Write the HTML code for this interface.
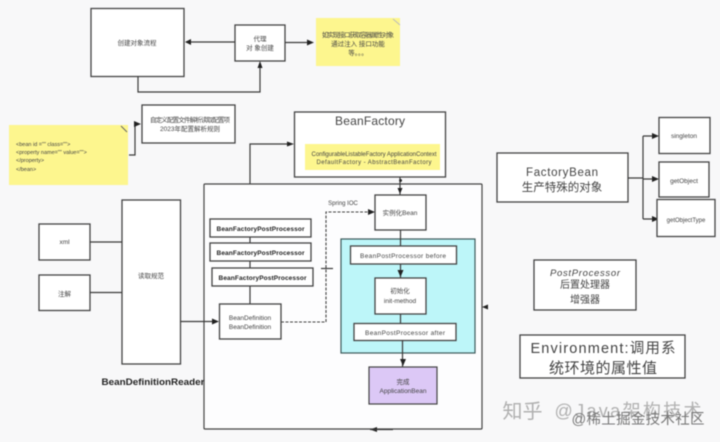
<!DOCTYPE html>
<html><head><meta charset="utf-8"><style>
html,body{margin:0;padding:0;background:#f8f8f9;width:720px;height:442px;overflow:hidden}
svg{display:block;filter:blur(.6px)}
text{font-family:"Liberation Sans","Noto Sans CJK SC",sans-serif;fill:#444;text-anchor:middle}
.b{fill:#fff;stroke:#444;stroke-width:1.3}
.l{fill:none;stroke:#3a3a3a;stroke-width:1.2}
.n{fill:#fdf68e}
.a{fill:#222;stroke:none}
.s{font-size:6.5px}
.m{font-family:"Liberation Sans",sans-serif;font-size:6.5px;font-weight:bold;fill:#222}
</style></head><body>
<svg width="720" height="442" viewBox="0 0 720 442" xmlns="http://www.w3.org/2000/svg">
<!-- top -->
<rect class="b" x="91" y="8.500" width="93" height="68"/>
<text class="s" x="137" y="45">创建对象流程</text>
<rect class="b" x="235" y="25" width="50" height="36"/>
<text class="s" x="260" y="41">代理</text>
<text class="s" x="260" y="50">对 象创建</text>
<path class="l" d="M235 42H186"/><path class="a" d="M185 42l6-3v6z"/>
<path class="l" d="M138 76V92H260V63"/><path class="a" d="M260 61l-2.500 7h5z"/>
<path class="l" d="M285 42.500H308"/><path class="a" d="M314 42.500l-7-3v6z"/>
<rect class="n" x="316" y="18" width="84" height="48"/>
<path d="M393 19l7 6" stroke="#bbb" fill="none"/>
<text class="s" x="358" y="37" textLength="72">如实现接口获取容器属性对象</text>
<text class="s" x="358" y="46">通过注入 接口功能</text>
<text class="s" x="358" y="55">等。。。</text>

<rect class="b" x="142" y="105" width="93" height="38"/>
<text class="s" x="190" y="122" textLength="80">自定义配置文件解析读取配置项</text>
<text class="s" x="190" y="131">2023年配置解析规则</text>
<rect class="n" x="9" y="125" width="119" height="60"/>
<path d="M121 126l6 6" stroke="#666" fill="none"/>
<g style="font-size:5.500px"><text x="16" y="146" style="text-anchor:start">&lt;bean id ="" class=""&gt;</text>
<text x="16" y="154" style="text-anchor:start">&lt;property name="" value=""&gt;</text>
<text x="16" y="162" style="text-anchor:start">&lt;/property&gt;</text>
<text x="16" y="171" style="text-anchor:start">&lt;/bean&gt;</text></g>
<path class="l" d="M129 155H135V124H138"/><path class="a" d="M141 124l-7-3v6z"/>

<!-- BeanFactory -->
<rect class="b" x="294.500" y="112" width="151" height="65"/>
<text x="370" y="125" style="font-size:12px" textLength="70">BeanFactory</text>
<rect class="n" x="305" y="144" width="135" height="26"/>
<text class="s" x="374" y="156" style="font-size:6px" textLength="125">ConfigurableListableFactory  ApplicationContext</text>
<text class="s" x="374" y="164" style="font-size:6px" textLength="115">DefaultFactory  -  AbstractBeanFactory</text>
<path class="l" d="M250 219V144H290"/><path class="a" d="M294 144l-7-2.500v5z"/>

<!-- container -->
<rect x="204" y="184" width="278" height="245" rx="1" fill="#fdfdfe" stroke="#444" stroke-width="1.2"/>
<path class="a" d="M482 307l6-2.500v5z M370 429.500l7-2.500v5z"/>
<path class="l" d="M370 429.500H393"/>
<path class="l" d="M400 177V195"/><path class="a" d="M400 194l-2.500-6h5z"/>
<path class="a" d="M400.500 179a1.500 1.500 0 1 0 .1 0"/>

<path class="l" d="M250 237V243M250 261V268M250 286V304"/>
<rect class="b" x="210" y="219" width="101" height="18"/>
<rect class="b" x="210" y="243" width="101" height="18"/>
<rect class="b" x="212" y="268" width="101" height="18"/>
<text class="m" x="260.500" y="231" textLength="88">BeanFactoryPostProcessor</text>
<text class="m" x="260.500" y="255" textLength="88">BeanFactoryPostProcessor</text>
<text class="m" x="262.500" y="280" textLength="88">BeanFactoryPostProcessor</text>
<rect class="b" x="219.500" y="304" width="61.500" height="35"/>
<text class="s" x="250" y="320">BeanDefinition</text>
<text class="s" x="250" y="329">BeanDefinition</text>
<path d="M281 322H326V212H370" fill="none" stroke="#444" stroke-width="1.100" stroke-dasharray="3 1.500"/>
<path class="a" d="M375 212l-7-3v6z"/>
<path class="l" d="M321 268.500H333"/>
<text x="343" y="205" style="font-size:6px">Spring IOC</text>

<rect class="b" x="375" y="195" width="51" height="35"/>
<text class="s" x="400" y="215">实例化Bean</text>
<rect x="341" y="239" width="134" height="114" fill="#bdf6f9" stroke="#3d5a5a" stroke-width="1.200"/>
<path class="l" d="M400.500 230V246"/>
<rect class="b" x="350.500" y="246" width="106" height="18"/>
<text class="s" x="403" y="258" textLength="86">BeanPostProcessor  before</text>
<path class="l" d="M400.500 264V278"/><path class="a" d="M400.500 277l-3-7h6z"/>
<rect class="b" x="375" y="278" width="51" height="36"/>
<text class="s" x="400" y="293">初始化</text>
<text class="s" x="400" y="303">init-method</text>
<path class="l" d="M400.500 314V323"/>
<rect class="b" x="354" y="323.500" width="102" height="17"/>
<text class="s" x="405" y="335" textLength="80">BeanPostProcessor  after</text>
<path class="l" d="M402.500 340V367"/><path class="a" d="M403 366l-3-7h6z"/>
<rect x="369" y="367" width="68" height="37" fill="#dcc8f6" stroke="#444" stroke-width="1.200"/>
<text class="s" x="403" y="384">完成</text>
<text class="s" x="403" y="393">ApplicationBean</text>

<!-- left -->
<rect class="b" x="39" y="224" width="51" height="36"/>
<text class="s" x="64.500" y="244">xml</text>
<rect class="b" x="39" y="275" width="51" height="35.500"/>
<text class="s" x="64.500" y="296">注解</text>
<rect class="b" x="122" y="200" width="58.500" height="164"/>
<text class="s" x="151" y="278">读取规范</text>
<path class="l" d="M90 242H122M90 292.500H122M180 321.500H215"/><path class="a" d="M219 321.500l-7-3v6z"/>
<text x="153" y="385" style="font-size:9.500px;font-weight:bold;fill:#222" textLength="103" lengthAdjust="spacingAndGlyphs">BeanDefinitionReader</text>

<!-- right -->
<rect class="b" x="497" y="153" width="131" height="49"/>
<text x="562" y="176" style="font-size:11.500px" textLength="72">FactoryBean</text>
<text x="562" y="191" style="font-size:11.500px">生产特殊的对象</text>
<path class="l" d="M628 178H643M643 136V219M643 136H654M643 179H654M643 219H654"/>
<path class="a" d="M659 136l-7-3v6zM659 179l-7-3v6zM659 219l-7-3v6z"/>
<rect class="b" x="659" y="117.500" width="51" height="36"/>
<text class="s" x="684" y="138">singleton</text>
<rect class="b" x="659" y="162" width="50" height="35"/>
<text class="s" x="684" y="183">getObject</text>
<rect class="b" x="657" y="199.500" width="58" height="37"/>
<text class="s" x="686" y="222" style="font-size:6px">getObjectType</text>
<rect class="b" x="534" y="260" width="102" height="50"/>
<text x="585" y="276" style="font-size:9.500px;font-style:italic" textLength="70">PostProcessor</text>
<text x="585" y="288" style="font-size:10px">后置处理器</text>
<text x="585" y="303" style="font-size:10px">增强器</text>
<rect class="b" x="520" y="335" width="165" height="43"/>
<text x="603" y="353" style="font-size:14.500px" textLength="145">Environment:调用系</text>
<text x="603" y="373" style="font-size:15px" textLength="108">统环境的属性值</text>

<!-- watermark -->
<text x="522.500" y="418" style="font-size:20px;fill:#b0b0b0">知乎</text>
<text x="628" y="417" style="font-size:18px;fill:#b0b0b0" textLength="147">@Java架构技术</text>
<text x="638" y="424" style="font-size:14.500px;fill:#777" textLength="133">@稀土掘金技术社区</text>
</svg>
</body></html>
